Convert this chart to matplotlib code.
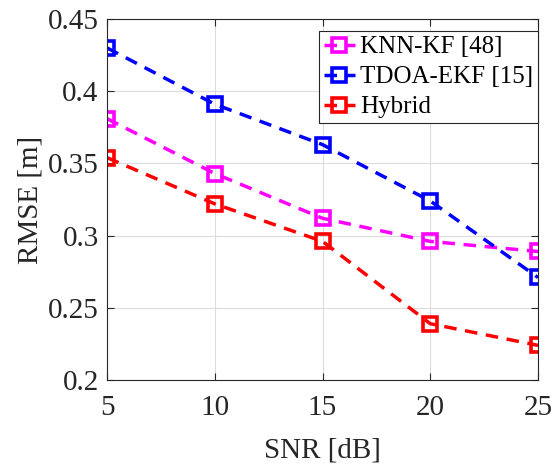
import matplotlib

matplotlib.use("Agg")

import matplotlib.pyplot as plt

snr_db = [5, 10, 15, 20, 25]
knn_kf = [0.381, 0.343, 0.312, 0.296, 0.289]
tdoa_ekf = [0.430, 0.391, 0.363, 0.324, 0.271]
hybrid = [0.354, 0.322, 0.296, 0.239, 0.224]

series = [
    ("KNN-KF [48]", knn_kf, "#ff00ff"),
    ("TDOA-EKF [15]", tdoa_ekf, "#0000ff"),
    ("Hybrid", hybrid, "#ff0000"),
]

plt.rcParams["font.family"] = ["Liberation Serif", "DejaVu Serif"]

fig = plt.figure(figsize=(5.57, 4.65), dpi=100)
ax = fig.add_axes([107 / 557, 1 - 380 / 465, 431 / 557, 361 / 465])

for label, values, color in series:
    ax.plot(snr_db, values, color=color, linewidth=2.5, dashes=(3.6, 2.5),
            marker="s", markersize=9.5, markerfacecolor="none",
            markeredgewidth=2.6, label=label)

ax.set_xlim(5, 25)
ax.set_ylim(0.2, 0.45)
ax.set_xticks([5, 10, 15, 20, 25])
ax.set_yticks([0.2, 0.25, 0.3, 0.35, 0.4, 0.45])
ax.set_yticklabels(["0.2", "0.25", "0.3", "0.35", "0.4", "0.45"])
ax.grid(True, color="#dcdcdc", linewidth=0.8)
ax.set_axisbelow(True)

dark = "#262626"
for spine in ax.spines.values():
    spine.set_color(dark)
    spine.set_linewidth(0.8)
ax.tick_params(direction="in", top=True, right=True, length=5, width=0.8,
               colors=dark, labelsize=21)
ax.tick_params(axis="x", pad=11)
ax.tick_params(axis="y", pad=6)
ax.set_xlabel("SNR [dB]", fontsize=21, color=dark, labelpad=12)
ax.set_ylabel("RMSE [m]", fontsize=21, color=dark, labelpad=3)

leg = ax.legend(loc="upper right", bbox_to_anchor=(1.0, 0.967), fontsize=18,
                frameon=True, fancybox=False, edgecolor=dark, framealpha=1,
                handlelength=1.25, handletextpad=0.2, borderpad=0.2,
                labelspacing=0.3, borderaxespad=0.0)
leg.get_frame().set_linewidth(0.8)

fig.savefig("out.png", dpi=100)
plt.close(fig)
